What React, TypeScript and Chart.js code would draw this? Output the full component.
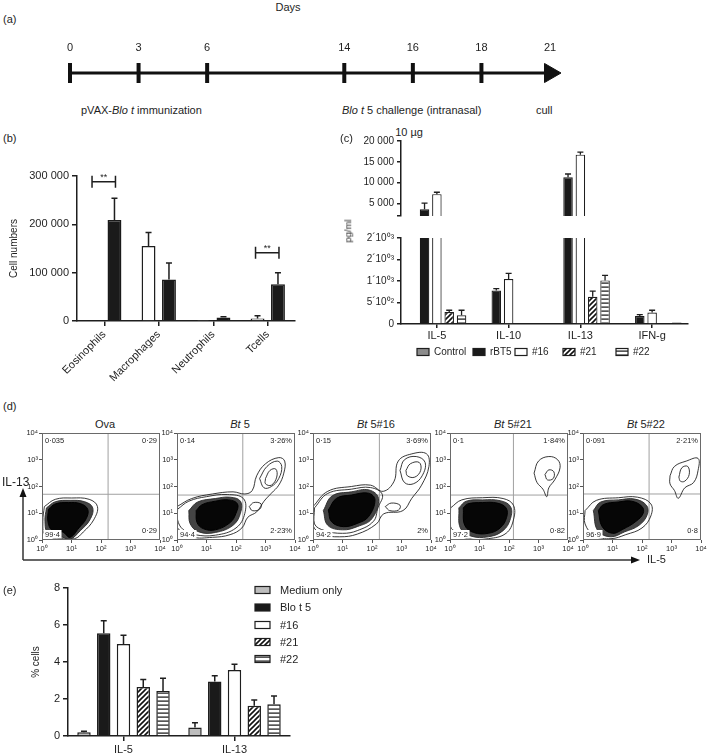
import React, { useEffect, useRef } from "react";
import { Chart, registerables } from "chart.js";

Chart.register(...registerables);

const FONT = "'Liberation Sans', Arial, Helvetica, sans-serif";
const INK = "#1e1e1e";
Chart.defaults.font.family = FONT;
Chart.defaults.color = INK;

// ---------------- (a) timeline ----------------
const timelineLabels = ["0", "3", "6", "", "14", "16", "18", "21"];
const timelineBaseline = [0, 0, 0, 0, 0, 0, 0, 0];
const timelineTickMarks = [0, 0, 0, null, 0, 0, 0, null];
const timelineArrowHead = [null, null, null, null, null, null, null, 0];

// ---------------- (b) cell numbers ----------------
const cellCategories = ["Eosinophils", "Macrophages", "Neutrophils", "Tcells"];
const cellControl = [2000, 155000, 1000, 5000];
const cellControlErr = [0, 28000, 0, 6000];
const cellChallenge = [209000, 86000, 7000, 76000];
const cellChallengeErr = [45000, 34000, 2000, 24000];
const cellTicks = [0, 100000, 200000, 300000];
const bracketCategories = [0, 3];
const bracketValues = [288000, 141000];

// ---------------- (c) cytokines ----------------
const cytokines = ["IL-5", "IL-10", "IL-13", "IFN-g"];
const cytoSeries = ["Control", "rBT5", "#16", "#21", "#22"];
const cytoControl = [null, null, null, null];
const cytoRBT5 = [3650, 780, 11280, 187];
const cytoRBT5Err = [1450, 45, 800, 33];
const cyto16 = [7240, 1044, 16730, 266];
const cyto16Err = [460, 133, 600, 54];
const cyto21 = [280, 15, 631, 22];
const cyto21Err = [40, 0, 133, 0];
const cyto22 = [203, 0, 1014, 32];
const cyto22Err = [117, 0, 117, 0];
const cytoUpperTicks = [2000, 5000, 10000, 15000, 20000];
const cytoLowerTicks = [0, 500, 1000, 1500, 2000];
const cytoLowerTickLabels = ["0", "5´10⁰²", "1´10⁰³", "2´10⁰³", "2´10⁰³"];

// ---------------- (d) flow cytometry ----------------
const flowTitles = ["Ova", "Bt 5", "Bt 5#16", "Bt 5#21", "Bt 5#22"];
const flowDecadeLabels = ["10⁰", "10¹", "10²", "10³", "10⁴"];
const flowGateX = [2.24, 2.23, 2.25, 2.15, 2.24];
const flowGateY = [1.71, 1.68, 1.68, 1.68, 1.72];
const flowQuadTL = ["0·035", "0·14", "0·15", "0·1", "0·091"];
const flowQuadTR = ["0·29", "3·26%", "3·69%", "1·84%", "2·21%"];
const flowQuadBL = ["99·4", "94·4", "94·2", "97·2", "96·9"];
const flowQuadBR = ["0·29", "2·23%", "2%", "0·82", "0·8"];

// contours, in decades (log10 of IL-5, log10 of IL-13)
const ovaCore = [[0.22, 1.15], [0.45, 1.35], [0.9, 1.4], [1.3, 1.36], [1.55, 1.15], [1.5, 0.8], [1.25, 0.45], [0.95, 0.1], [0.7, 0.3], [0.35, 0.35], [0.2, 0.7], [0.22, 1.15]];
const ovaRing1 = [[0.15, 1.2], [0.45, 1.43], [0.95, 1.48], [1.45, 1.43], [1.72, 1.2], [1.62, 0.75], [1.3, 0.35], [0.95, 0.03], [0.6, 0.15], [0.2, 0.25], [0.1, 0.7], [0.15, 1.2]];
const ovaRing2 = [[0.08, 1.25], [0.45, 1.52], [1.0, 1.57], [1.6, 1.52], [1.88, 1.25], [1.75, 0.75], [1.4, 0.3], [1.1, 0.05], [0.5, 0.08], [0.1, 0.2], [0.03, 0.7], [0.08, 1.25]];
const ovaLobe = [[0.2, 0.17], [0.45, 0.25], [0.75, 0.17], [0.5, 0.04], [0.2, 0.17]];

const bt5Core = [[0.65, 1.1], [0.85, 1.32], [1.3, 1.45], [1.75, 1.5], [2.05, 1.35], [2.0, 1.0], [1.8, 0.65], [1.3, 0.38], [0.9, 0.42], [0.68, 0.65], [0.65, 1.1]];
const bt5Ring1 = [[0.4, 1.1], [0.7, 1.42], [1.3, 1.55], [1.8, 1.6], [2.15, 1.45], [2.15, 1.0], [1.9, 0.55], [1.3, 0.28], [0.75, 0.3], [0.45, 0.6], [0.4, 1.1]];
const bt5Ring2 = [[0.02, 1.15], [0.4, 1.45], [1.0, 1.62], [1.7, 1.7], [2.25, 1.55], [2.3, 1.0], [2.0, 0.45], [1.3, 0.18], [0.6, 0.2], [0.2, 0.4], [0.02, 0.75], [0.02, 1.15]];
const bt5Outer = [[0.0, 1.25], [0.5, 1.55], [1.2, 1.72], [1.9, 1.8], [2.3, 1.72], [2.55, 1.85], [2.7, 2.4], [3.0, 2.85], [3.45, 3.08], [3.65, 2.95], [3.62, 2.5], [3.45, 2.05], [3.2, 1.75], [2.95, 1.45], [2.7, 1.05], [2.4, 0.85], [2.2, 0.45], [1.8, 0.2], [1.2, 0.1], [0.5, 0.12], [0.0, 0.5], [0.0, 1.25]];
const bt5SecMid = [[2.8, 2.3], [3.05, 2.75], [3.4, 2.95], [3.55, 2.75], [3.45, 2.3], [3.2, 2.0], [2.95, 1.95], [2.8, 2.3]];
const bt5SecInner = [[3.0, 2.3], [3.15, 2.6], [3.35, 2.65], [3.38, 2.35], [3.2, 2.05], [3.0, 2.1], [3.0, 2.3]];
const bt5Tail = [[2.45, 1.25], [2.6, 1.4], [2.85, 1.35], [2.8, 1.15], [2.55, 1.1], [2.45, 1.25]];

const b16Core = [[0.52, 1.12], [0.8, 1.56], [1.3, 1.68], [1.88, 1.75], [2.1, 1.5], [1.88, 0.87], [1.5, 0.62], [1.03, 0.5], [0.63, 0.68], [0.52, 1.12]];
const b16Ring1 = [[0.35, 1.1], [0.65, 1.65], [1.3, 1.8], [1.9, 1.87], [2.22, 1.55], [2.0, 0.8], [1.5, 0.5], [1.0, 0.38], [0.5, 0.55], [0.35, 1.1]];
const b16Ring2 = [[0.05, 1.2], [0.5, 1.74], [1.3, 1.9], [1.95, 1.96], [2.35, 1.7], [2.2, 1.2], [2.05, 0.7], [1.5, 0.35], [1.0, 0.25], [0.4, 0.35], [0.05, 0.6], [0.05, 1.2]];
const b16Outer = [[0.0, 1.25], [0.5, 1.82], [1.3, 2.0], [1.95, 2.05], [2.38, 1.82], [2.75, 2.2], [2.89, 2.95], [3.35, 3.22], [3.85, 3.22], [3.93, 2.75], [3.68, 2.05], [3.35, 1.56], [3.05, 1.1], [2.4, 0.98], [2.15, 0.6], [1.5, 0.22], [0.9, 0.12], [0.3, 0.22], [0.0, 0.55], [0.0, 1.25]];
const b16SecMid = [[2.95, 2.6], [3.1, 3.0], [3.5, 3.12], [3.8, 2.9], [3.7, 2.4], [3.4, 2.1], [3.1, 2.15], [2.95, 2.6]];
const b16SecInner = [[3.15, 2.6], [3.3, 2.85], [3.6, 2.9], [3.65, 2.6], [3.45, 2.35], [3.2, 2.4], [3.15, 2.6]];
const b16Tail = [[2.45, 1.25], [2.65, 1.38], [2.95, 1.3], [2.9, 1.12], [2.6, 1.1], [2.45, 1.25]];

const b21Core = [[0.45, 1.2], [0.6, 1.35], [1.1, 1.4], [1.6, 1.38], [1.9, 1.2], [1.92, 0.85], [1.7, 0.45], [1.3, 0.25], [0.8, 0.28], [0.5, 0.55], [0.45, 1.2]];
const b21Ring1 = [[0.3, 1.2], [0.55, 1.45], [1.1, 1.5], [1.7, 1.47], [2.05, 1.25], [2.05, 0.8], [1.8, 0.35], [1.3, 0.12], [0.7, 0.15], [0.35, 0.45], [0.3, 1.2]];
const b21Ring2 = [[0.02, 1.2], [0.4, 1.5], [1.1, 1.58], [1.8, 1.55], [2.15, 1.3], [2.15, 0.75], [1.9, 0.25], [1.3, 0.05], [0.6, 0.05], [0.2, 0.3], [0.02, 0.5], [0.02, 1.2]];
const b21SecOuter = [[2.85, 2.5], [3.0, 2.95], [3.35, 3.12], [3.65, 3.0], [3.73, 2.7], [3.55, 2.25], [3.35, 1.95], [3.28, 1.62], [3.15, 1.9], [2.95, 2.15], [2.85, 2.5]];
const b21SecInner = [[3.22, 2.45], [3.35, 2.62], [3.52, 2.55], [3.5, 2.3], [3.3, 2.25], [3.22, 2.45]];

const b22Core = [[0.52, 1.1], [0.7, 1.33], [1.2, 1.42], [1.65, 1.45], [2.0, 1.25], [2.04, 1.0], [1.8, 0.7], [1.35, 0.4], [1.0, 0.25], [0.65, 0.5], [0.52, 1.1]];
const b22Ring1 = [[0.35, 1.1], [0.6, 1.42], [1.2, 1.5], [1.75, 1.53], [2.15, 1.3], [2.18, 0.95], [1.9, 0.55], [1.4, 0.3], [0.95, 0.12], [0.5, 0.35], [0.35, 1.1]];
const b22Ring2 = [[0.07, 1.1], [0.45, 1.48], [1.2, 1.58], [1.85, 1.6], [2.3, 1.35], [2.3, 0.9], [2.0, 0.45], [1.45, 0.2], [0.95, 0.05], [0.4, 0.15], [0.07, 0.6], [0.07, 1.1]];
const b22SecOuter = [[2.95, 2.4], [3.1, 2.75], [3.5, 2.95], [3.9, 3.05], [3.9, 2.6], [3.75, 2.15], [3.45, 1.95], [3.23, 1.56], [3.1, 1.85], [2.95, 2.1], [2.95, 2.4]];
const b22SecInner = [[3.25, 2.35], [3.35, 2.7], [3.55, 2.75], [3.6, 2.45], [3.45, 2.2], [3.3, 2.2], [3.25, 2.35]];

const flowCores = [ovaCore, bt5Core, b16Core, b21Core, b22Core];
const flowInnerRings = [ovaRing1, bt5Ring1, b16Ring1, b21Ring1, b22Ring1];
const flowOuterRings = [ovaRing2, bt5Ring2, b16Ring2, b21Ring2, b22Ring2];
const flowExtras = [
  [ovaLobe],
  [bt5Outer, bt5SecMid, bt5SecInner, bt5Tail],
  [b16Outer, b16SecMid, b16SecInner, b16Tail],
  [b21SecOuter, b21SecInner],
  [b22SecOuter, b22SecInner],
];

// ---------------- (e) % cells ----------------
const pctCategories = ["IL-5", "IL-13"];
const pctSeries = ["Medium only", "Blo t 5", "#16", "#21", "#22"];
const pctMedium = [0.2, 0.46];
const pctMediumErr = [0.06, 0.25];
const pctBlot5 = [5.56, 2.95];
const pctBlot5Err = [0.67, 0.31];
const pct16 = [4.97, 3.57];
const pct16Err = [0.48, 0.31];
const pct21 = [2.65, 1.63];
const pct21Err = [0.41, 0.31];
const pct22 = [2.43, 1.71];
const pct22Err = [0.69, 0.45];
const pctTicks = [0, 2, 4, 6, 8];

// ---------------- layout ----------------
const flowPlotLefts = [42, 177, 313, 450, 583];

// ---------------- helpers ----------------
const fmtThousands = (v: number) => String(v).replace(/\B(?=(\d{3})+(?!\d))/g, " ");

function diagPattern(): any {
  const t = document.createElement("canvas");
  t.width = 5;
  t.height = 5;
  const c = t.getContext("2d")!;
  c.fillStyle = "#fff";
  c.fillRect(0, 0, 5, 5);
  c.strokeStyle = "#111";
  c.lineWidth = 1.6;
  c.beginPath();
  c.moveTo(-1, 6);
  c.lineTo(6, -1);
  c.moveTo(-1, 1);
  c.lineTo(1, -1);
  c.moveTo(4, 6);
  c.lineTo(6, 4);
  c.stroke();
  return c.createPattern(t, "repeat");
}

function horizPattern(): any {
  const t = document.createElement("canvas");
  t.width = 4;
  t.height = 4;
  const c = t.getContext("2d")!;
  c.fillStyle = "#fff";
  c.fillRect(0, 0, 4, 4);
  c.fillStyle = "#111";
  c.fillRect(0, 1.5, 4, 1.2);
  return c.createPattern(t, "repeat");
}

function errorBarsPlugin(cap: number, width: number) {
  return {
    id: "errorBars",
    afterDatasetsDraw(chart: any) {
      const { ctx, chartArea: a } = chart;
      ctx.save();
      ctx.beginPath();
      ctx.rect(a.left, a.top - 2, a.right - a.left, a.bottom - a.top + 2);
      ctx.clip();
      chart.data.datasets.forEach((ds: any, di: number) => {
        if (!ds.errors) return;
        const meta = chart.getDatasetMeta(di);
        const ys = chart.scales[meta.yAxisID];
        meta.data.forEach((bar: any, i: number) => {
          const v = ds.data[i];
          const e = ds.errors[i];
          if (v == null || !e) return;
          const y0 = ys.getPixelForValue(v);
          const y1 = ys.getPixelForValue(v + e);
          ctx.strokeStyle = INK;
          ctx.lineWidth = width;
          ctx.beginPath();
          ctx.moveTo(bar.x, y0);
          ctx.lineTo(bar.x, y1);
          ctx.moveTo(bar.x - cap, y1);
          ctx.lineTo(bar.x + cap, y1);
          ctx.stroke();
        });
      });
      ctx.restore();
    },
  };
}

function bracketPlugin(cats: number[], values: number[]) {
  return {
    id: "brackets",
    afterDatasetsDraw(chart: any) {
      const { ctx } = chart;
      const ys = chart.scales.y;
      const m0 = chart.getDatasetMeta(0);
      const m1 = chart.getDatasetMeta(1);
      ctx.save();
      ctx.strokeStyle = INK;
      ctx.fillStyle = INK;
      ctx.lineWidth = 1.5;
      cats.forEach((c, k) => {
        const x0 = m0.data[c].x - 2;
        const x1 = m1.data[c].x + 1;
        const y = ys.getPixelForValue(values[k]);
        ctx.beginPath();
        ctx.moveTo(x0, y);
        ctx.lineTo(x1, y);
        ctx.moveTo(x0, y - 6);
        ctx.lineTo(x0, y + 6);
        ctx.moveTo(x1, y - 6);
        ctx.lineTo(x1, y + 6);
        ctx.stroke();
        ctx.font = `9px ${FONT}`;
        ctx.textAlign = "center";
        ctx.textBaseline = "alphabetic";
        ctx.fillText("**", (x0 + x1) / 2, y - 2);
      });
      ctx.restore();
    },
  };
}

function boxLegendPlugin(xs: number[], ys: number[], boxW: number, boxH: number, gap: number, size: number) {
  return {
    id: "boxLegend",
    afterDraw(chart: any) {
      const { ctx } = chart;
      ctx.save();
      chart.data.datasets.forEach((ds: any, i: number) => {
        const x = xs[i];
        const y = ys[i];
        ctx.fillStyle = ds.backgroundColor;
        ctx.fillRect(x, y - boxH / 2, boxW, boxH);
        ctx.strokeStyle = INK;
        ctx.lineWidth = 1.2;
        ctx.strokeRect(x, y - boxH / 2, boxW, boxH);
        ctx.fillStyle = INK;
        ctx.font = `${size}px ${FONT}`;
        ctx.textAlign = "left";
        ctx.textBaseline = "middle";
        ctx.fillText(ds.label, x + boxW + gap, y + 0.5);
      });
      ctx.restore();
    },
  };
}

function flowDecorPlugin(i: number) {
  return {
    id: "flowDecor",
    afterDraw(chart: any) {
      const { ctx, chartArea: a } = chart;
      ctx.save();
      ctx.strokeStyle = "#6a6a6a";
      ctx.lineWidth = 1;
      ctx.strokeRect(a.left + 0.5, a.top + 0.5, a.right - a.left - 1, a.bottom - a.top - 1);
      ctx.font = `7.5px ${FONT}`;
      ctx.textBaseline = "middle";
      // white backing behind the bottom-left label, as in the original export
      const blW = ctx.measureText(flowQuadBL[i]).width;
      ctx.fillStyle = "#fff";
      ctx.fillRect(a.left + 1.5, a.bottom - 10, blW + 3, 8.5);
      ctx.fillStyle = INK;
      ctx.textAlign = "left";
      ctx.fillText(flowQuadTL[i], a.left + 3, a.top + 8);
      ctx.fillText(flowQuadBL[i], a.left + 3, a.bottom - 5.5);
      ctx.textAlign = "right";
      ctx.fillText(flowQuadTR[i], a.right - 3, a.top + 8);
      ctx.fillText(flowQuadBR[i], a.right - 3, a.bottom - 9);
      ctx.restore();
    },
  };
}

const axisGrid = (tickLength: number, offset = false) => ({
  display: true,
  drawOnChartArea: false,
  drawTicks: true,
  tickLength,
  offset,
  color: INK,
  lineWidth: 1.5,
});
const axisBorder = { display: true, color: INK, width: 1.5 };
const noInteraction = { legend: { display: false }, tooltip: { enabled: false } };

// ---------------- chart configs ----------------
function timelineConfig(): any {
  return {
    type: "line",
    data: {
      labels: timelineLabels,
      datasets: [
        { data: timelineTickMarks, showLine: false, pointStyle: "line", pointRotation: 90, pointRadius: 10, pointBorderWidth: 4, pointBorderColor: "#111" },
        { data: timelineArrowHead, showLine: false, pointStyle: "triangle", pointRotation: 90, pointRadius: 11, pointBackgroundColor: "#111", pointBorderColor: "#111", pointBorderWidth: 1 },
        { data: timelineBaseline, borderColor: "#111", borderWidth: 3, pointRadius: 0 },
      ],
    },
    options: {
      animation: false,
      responsive: false,
      events: [],
      layout: { autoPadding: false, padding: { left: 70, right: 159, top: 0, bottom: 0 } },
      plugins: noInteraction,
      scales: {
        x: {
          position: "top",
          offset: false,
          grid: { display: false, drawTicks: false },
          border: { display: false },
          ticks: { font: { size: 11 }, color: INK, padding: 1, maxRotation: 0, autoSkip: false },
          afterFit: (s: any) => { s.height = 22; },
        },
        y: { display: false, min: -1, max: 1 },
      },
    },
  };
}

function cellConfig(): any {
  return {
    type: "bar",
    data: {
      labels: cellCategories,
      datasets: [
        { label: "Control", data: cellControl, errors: cellControlErr, backgroundColor: "#fff", borderColor: INK, borderWidth: 1.5 },
        { label: "Blo t 5", data: cellChallenge, errors: cellChallengeErr, backgroundColor: "#1a1a1a", borderColor: "#1a1a1a", borderWidth: 1.5 },
      ],
    },
    options: {
      animation: false,
      responsive: false,
      events: [],
      datasets: { bar: { categoryPercentage: 0.75, barPercentage: 0.68 } },
      layout: { padding: { left: 8, top: 46, right: 50, bottom: 0 } },
      plugins: noInteraction,
      scales: {
        x: {
          grid: axisGrid(5),
          border: axisBorder,
          ticks: { font: { size: 11 }, color: INK, minRotation: 45, maxRotation: 45, padding: 2, autoSkip: false },
          afterFit: (s: any) => { s.height = 74; },
        },
        y: {
          min: 0,
          max: 300000,
          afterBuildTicks: (s: any) => { s.ticks = cellTicks.map((v) => ({ value: v })); },
          ticks: { font: { size: 11 }, color: INK, padding: 3, callback: (v: number) => fmtThousands(v) },
          grid: axisGrid(5),
          border: axisBorder,
          title: { display: true, text: "Cell numbers", font: { size: 10 }, color: INK, padding: { top: 0, bottom: 0 } },
          afterFit: (s: any) => { s.width = 69; },
        },
      },
    },
    plugins: [errorBarsPlugin(3, 1.5), bracketPlugin(bracketCategories, bracketValues)],
  };
}

function cytoDatasets(): any[] {
  const diag = diagPattern();
  const horiz = horizPattern();
  return [
    { label: cytoSeries[0], data: cytoControl, backgroundColor: "#8c8c8c", borderColor: INK, borderWidth: 1.2 },
    { label: cytoSeries[1], data: cytoRBT5, errors: cytoRBT5Err, backgroundColor: "#1a1a1a", borderColor: "#1a1a1a", borderWidth: 1.2 },
    { label: cytoSeries[2], data: cyto16, errors: cyto16Err, backgroundColor: "#fff", borderColor: INK, borderWidth: 1.2 },
    { label: cytoSeries[3], data: cyto21, errors: cyto21Err, backgroundColor: diag, borderColor: INK, borderWidth: 1.2 },
    { label: cytoSeries[4], data: cyto22, errors: cyto22Err, backgroundColor: horiz, borderColor: INK, borderWidth: 1.2 },
  ];
}

function cytoUpperConfig(): any {
  return {
    type: "bar",
    data: { labels: cytokines, datasets: cytoDatasets() },
    options: {
      animation: false,
      responsive: false,
      events: [],
      datasets: { bar: { categoryPercentage: 0.86, barPercentage: 0.77 } },
      layout: { padding: { left: 0, top: 11, right: 21, bottom: 4 } },
      plugins: noInteraction,
      scales: {
        x: { display: false },
        y: {
          min: 2000,
          max: 20000,
          afterBuildTicks: (s: any) => { s.ticks = cytoUpperTicks.map((v) => ({ value: v })); },
          ticks: { font: { size: 10 }, color: INK, padding: 3, callback: (v: number) => (v === cytoUpperTicks[0] ? "" : fmtThousands(v)) },
          grid: axisGrid(4),
          border: axisBorder,
          afterFit: (s: any) => { s.width = 56; },
        },
      },
    },
    plugins: [errorBarsPlugin(3, 1.3)],
  };
}

function cytoLowerConfig(): any {
  return {
    type: "bar",
    data: { labels: cytokines, datasets: cytoDatasets() },
    options: {
      animation: false,
      responsive: false,
      events: [],
      datasets: { bar: { categoryPercentage: 0.86, barPercentage: 0.77 } },
      layout: { padding: { left: 0, top: 13, right: 21, bottom: 22 } },
      plugins: noInteraction,
      scales: {
        x: {
          grid: axisGrid(4),
          border: axisBorder,
          ticks: { font: { size: 11 }, color: INK, padding: 1, maxRotation: 0, autoSkip: false },
          afterFit: (s: any) => { s.height = 19; },
        },
        y: {
          min: 0,
          max: 2000,
          afterBuildTicks: (s: any) => { s.ticks = cytoLowerTicks.map((v) => ({ value: v })); },
          ticks: { font: { size: 10 }, color: INK, padding: 3, callback: (v: number) => cytoLowerTickLabels[cytoLowerTicks.indexOf(v)] },
          grid: axisGrid(4),
          border: axisBorder,
          afterFit: (s: any) => { s.width = 56; },
        },
      },
    },
    plugins: [errorBarsPlugin(3, 1.3), boxLegendPlugin([72, 128, 170, 218, 271], [127, 127, 127, 127, 127], 12, 7, 5, 10)],
  };
}

function flowConfig(i: number): any {
  const toXY = (pts: number[][]) => pts.map(([x, y]) => ({ x, y }));
  const contour = (pts: number[][], color: string, width: number, fillColor?: string) => ({
    data: toXY(pts),
    borderColor: color,
    borderWidth: width,
    pointRadius: 0,
    tension: 0.4,
    fill: fillColor ? "shape" : false,
    backgroundColor: fillColor || "rgba(0,0,0,0)",
  });
  const gx = flowGateX[i];
  const gy = flowGateY[i];
  const datasets = [
    contour(flowCores[i], "#000", 1, "#060606"),
    contour(flowInnerRings[i], "#2a2a2a", 0.9, "#444"),
    contour(flowOuterRings[i], "#222", 0.9),
    ...flowExtras[i].map((p) => contour(p, "#222", 0.9)),
    { data: [{ x: gx, y: 0 }, { x: gx, y: 4 }], borderColor: "#a0a0a0", borderWidth: 1, pointRadius: 0 },
    { data: [{ x: 0, y: gy }, { x: 4, y: gy }], borderColor: "#a0a0a0", borderWidth: 1, pointRadius: 0 },
  ];
  const tickStyle = { font: { size: 7.5 }, color: INK, padding: 1, stepSize: 1, maxRotation: 0, autoSkip: false, callback: (v: number) => flowDecadeLabels[v] };
  return {
    type: "line",
    data: { datasets },
    options: {
      animation: false,
      responsive: false,
      events: [],
      layout: { autoPadding: false, padding: { left: 0, top: 20, right: 8, bottom: 4 } },
      plugins: noInteraction,
      scales: {
        x: {
          type: "linear",
          min: 0,
          max: 4,
          ticks: tickStyle,
          grid: { display: true, drawOnChartArea: false, tickLength: 3, color: "#555" },
          border: { display: false },
          afterFit: (s: any) => { s.height = 14; },
        },
        y: {
          type: "linear",
          min: 0,
          max: 4,
          ticks: tickStyle,
          grid: { display: true, drawOnChartArea: false, tickLength: 3, color: "#555" },
          border: { display: false },
          afterFit: (s: any) => { s.width = 32; },
        },
      },
    },
    plugins: [flowDecorPlugin(i)],
  };
}

function pctConfig(): any {
  const diag = diagPattern();
  const horiz = horizPattern();
  return {
    type: "bar",
    data: {
      labels: pctCategories,
      datasets: [
        { label: pctSeries[0], data: pctMedium, errors: pctMediumErr, backgroundColor: "#bdbdbd", borderColor: INK, borderWidth: 1.5 },
        { label: pctSeries[1], data: pctBlot5, errors: pctBlot5Err, backgroundColor: "#1a1a1a", borderColor: "#1a1a1a", borderWidth: 1.5 },
        { label: pctSeries[2], data: pct16, errors: pct16Err, backgroundColor: "#fff", borderColor: INK, borderWidth: 1.5 },
        { label: pctSeries[3], data: pct21, errors: pct21Err, backgroundColor: diag, borderColor: INK, borderWidth: 1.5 },
        { label: pctSeries[4], data: pct22, errors: pct22Err, backgroundColor: horiz, borderColor: INK, borderWidth: 1.5 },
      ],
    },
    options: {
      animation: false,
      responsive: false,
      events: [],
      datasets: { bar: { categoryPercentage: 0.89, barPercentage: 0.68 } },
      layout: { padding: { left: 30, top: 13, right: 55, bottom: 0 } },
      plugins: noInteraction,
      scales: {
        x: {
          grid: axisGrid(5),
          border: axisBorder,
          ticks: { font: { size: 11 }, color: INK, padding: 2, maxRotation: 0, autoSkip: false },
          afterFit: (s: any) => { s.height = 19; },
        },
        y: {
          min: 0,
          max: 8,
          afterBuildTicks: (s: any) => { s.ticks = pctTicks.map((v) => ({ value: v })); },
          ticks: { font: { size: 11 }, color: INK, padding: 3 },
          grid: axisGrid(5),
          border: axisBorder,
          title: { display: true, text: "% cells", font: { size: 10 }, color: INK, padding: { top: 0, bottom: 0 } },
          afterFit: (s: any) => { s.width = 38; },
        },
      },
    },
    plugins: [errorBarsPlugin(3, 1.5), boxLegendPlugin([255, 255, 255, 255, 255], [15, 32.5, 50, 67, 84], 15, 7, 10, 11)],
  };
}

// ---------------- components ----------------
type CanvasProps = { left: number; top: number; width: number; height: number; build: () => any };

function ChartCanvas({ left, top, width, height, build }: CanvasProps) {
  const ref = useRef<HTMLCanvasElement | null>(null);
  useEffect(() => {
    if (!ref.current) return;
    const chart = new Chart(ref.current, build());
    return () => chart.destroy();
  }, []);
  return <canvas ref={ref} width={width} height={height} style={{ position: "absolute", left, top, width, height }} />;
}

type TxtProps = { x: number; y: number; size?: number; center?: boolean; children: any; rotate?: boolean };
function Txt({ x, y, size = 11, center = false, children, rotate = false }: TxtProps) {
  const transform = rotate ? "translate(-50%, -50%) rotate(-90deg)" : center ? "translateX(-50%)" : undefined;
  return (
    <div style={{ position: "absolute", left: x, top: y, fontSize: size, lineHeight: 1, whiteSpace: "nowrap", fontFamily: FONT, color: INK, transform }}>
      {children}
    </div>
  );
}

function FlowTitle({ text }: { text: string }) {
  if (text.startsWith("Bt ")) {
    return (
      <span>
        <i>Bt</i>
        {text.slice(2)}
      </span>
    );
  }
  return <span>{text}</span>;
}

export default function App() {
  return (
    <div style={{ position: "absolute", left: 0, top: 0, width: 709, height: 755, background: "#fff", overflow: "hidden", fontFamily: FONT, color: INK }}>
      {/* (a) */}
      <Txt x={3} y={14}>(a)</Txt>
      <Txt x={288} y={2} center>Days</Txt>
      <ChartCanvas left={0} top={34} width={709} height={56} build={timelineConfig} />
      <Txt x={81} y={105}>
        pVAX-<i>Blo t</i> immunization
      </Txt>
      <Txt x={342} y={105}>
        <i>Blo t</i> 5 challenge (intranasal)
      </Txt>
      <Txt x={409} y={127} center>10 µg</Txt>
      <Txt x={536} y={105}>cull</Txt>

      {/* (b) */}
      <Txt x={3} y={133}>(b)</Txt>
      <ChartCanvas left={0} top={130} width={345} height={265} build={cellConfig} />

      {/* (c) */}
      <Txt x={340} y={133}>(c)</Txt>
      <ChartCanvas left={345} top={130} width={364} height={95} build={cytoUpperConfig} />
      <ChartCanvas left={345} top={225} width={364} height={140} build={cytoLowerConfig} />
      <Txt x={348} y={231} size={9.5} rotate>pg/ml</Txt>

      {/* (d) */}
      <Txt x={3} y={401}>(d)</Txt>
      {flowPlotLefts.map((l, i) => (
        <React.Fragment key={i}>
          <Txt x={l + 63} y={419} center>
            <FlowTitle text={flowTitles[i]} />
          </Txt>
          <ChartCanvas left={l - 32} top={413} width={158} height={145} build={() => flowConfig(i)} />
        </React.Fragment>
      ))}
      <Txt x={2} y={476} size={12}>IL-13</Txt>
      <Txt x={647} y={554} size={11}>IL-5</Txt>
      <svg width={709} height={100} style={{ position: "absolute", left: 0, top: 480 }}>
        <line x1={23} y1={80} x2={23} y2={15} stroke="#333" strokeWidth={1.5} />
        <polygon points="23,8 19.5,17 26.5,17" fill="#111" />
        <line x1={23} y1={80} x2={633} y2={80} stroke="#333" strokeWidth={1.5} />
        <polygon points="640,80 631,76.5 631,83.5" fill="#111" />
      </svg>

      {/* (e) */}
      <Txt x={3} y={585}>(e)</Txt>
      <ChartCanvas left={0} top={575} width={345} height={180} build={pctConfig} />
    </div>
  );
}
